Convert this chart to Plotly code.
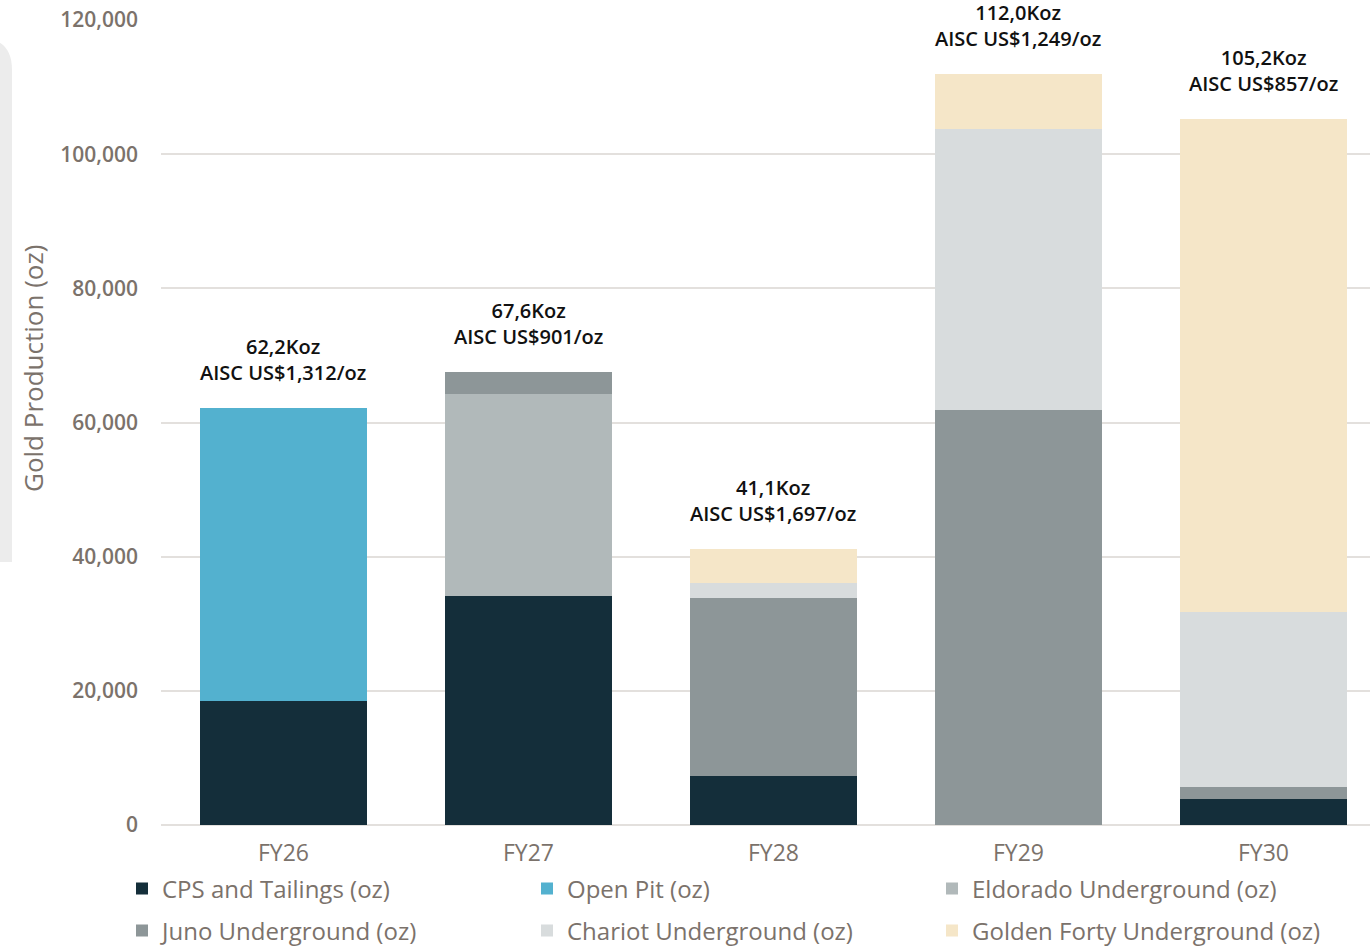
import plotly.graph_objects as go

categories = ["FY26", "FY27", "FY28", "FY29", "FY30"]
cps = [18500, 34100, 7300, 0, 3900]
open_pit = [43700, 0, 0, 0, 0]
eldorado = [0, 30200, 0, 0, 0]
juno = [0, 3300, 26500, 61900, 1800]
chariot = [0, 0, 2300, 41900, 26100]
golden = [0, 0, 5000, 8200, 73400]
totals = [62200, 67600, 41100, 112000, 105200]
labels = [
    "62,2Koz<br>AISC US$1,312/oz",
    "67,6Koz<br>AISC US$901/oz",
    "41,1Koz<br>AISC US$1,697/oz",
    "112,0Koz<br>AISC US$1,249/oz",
    "105,2Koz<br>AISC US$857/oz",
]
y_ticks = [0, 20000, 40000, 60000, 80000, 100000, 120000]

series = [
    ("CPS and Tailings (oz)", cps, "#142e3a", "legend"),
    ("Open Pit (oz)", open_pit, "#53b1cf", "legend"),
    ("Eldorado Underground (oz)", eldorado, "#b1b9ba", "legend"),
    ("Juno Underground (oz)", juno, "#8d9698", "legend2"),
    ("Chariot Underground (oz)", chariot, "#d8dcdd", "legend2"),
    ("Golden Forty Underground (oz)", golden, "#f5e6c8", "legend2"),
]

FONT = "Open Sans"
GREY = "#7b726b"

fig = go.Figure()
for name, vals, col, lg in series:
    fig.add_trace(go.Bar(
        x=categories, y=vals, name=name, legend=lg,
        marker=dict(color=col, line=dict(width=0)),
        width=0.68,
    ))

for cat, tot, lab in zip(categories, totals, labels):
    fig.add_annotation(
        x=cat, y=tot, text=lab, showarrow=False,
        xanchor="center", yanchor="bottom", yshift=20,
        font=dict(family=FONT, size=20, color="#111111", weight=600),
    )

def px(x):
    return (x - 161) / 1209

def py(y):
    return (825 - y) / 805

fig.add_annotation(
    xref="paper", yref="paper",
    x=px(33), y=py(369),
    text="Gold Production (oz)", textangle=-90, showarrow=False,
    xanchor="center", yanchor="middle",
    font=dict(family=FONT, size=26, color=GREY, weight=500),
)

# decorative grey panel at left edge
path = (
    f"M {px(-20)},{py(562)} L {px(12)},{py(562)} L {px(12)},{py(70)} "
    f"Q {px(12)},{py(38)} {px(-20)},{py(38)} Z"
)
fig.add_shape(type="path", xref="paper", yref="paper", path=path,
              fillcolor="#ececec", line=dict(width=0), layer="below")

legend_common = dict(
    orientation="h", xanchor="left", yanchor="middle",
    entrywidth=360, entrywidthmode="pixels", traceorder="normal",
    font=dict(family=FONT, size=24, color=GREY, weight=500),
    itemsizing="constant", bgcolor="rgba(0,0,0,0)",
)

fig.update_layout(
    barmode="stack",
    width=1370, height=947,
    margin=dict(l=161, r=0, t=20, b=122, autoexpand=False),
    paper_bgcolor="white", plot_bgcolor="white",
    font=dict(family=FONT, color=GREY),
    showlegend=True,
    legend=dict(legend_common, x=px(122), y=py(889)),
    legend2=dict(legend_common, x=px(122), y=py(931)),
    xaxis=dict(
        range=[-0.5, 4.435], showgrid=False, showline=False, ticks="",
        tickfont=dict(family=FONT, size=23, color=GREY, weight=500),
        ticklabelstandoff=12,
    ),
    yaxis=dict(
        range=[0, 120000], tickvals=y_ticks,
        ticktext=[f"{v:,}" for v in y_ticks],
        showgrid=True, gridcolor="#e3e0dd", gridwidth=2,
        zeroline=True, zerolinecolor="#e3e0dd", zerolinewidth=2,
        showline=False, ticks="",
        tickfont=dict(family=FONT, size=21, color=GREY, weight=600),
        ticklabelstandoff=22,
    ),
)

fig.write_html("out.html")
